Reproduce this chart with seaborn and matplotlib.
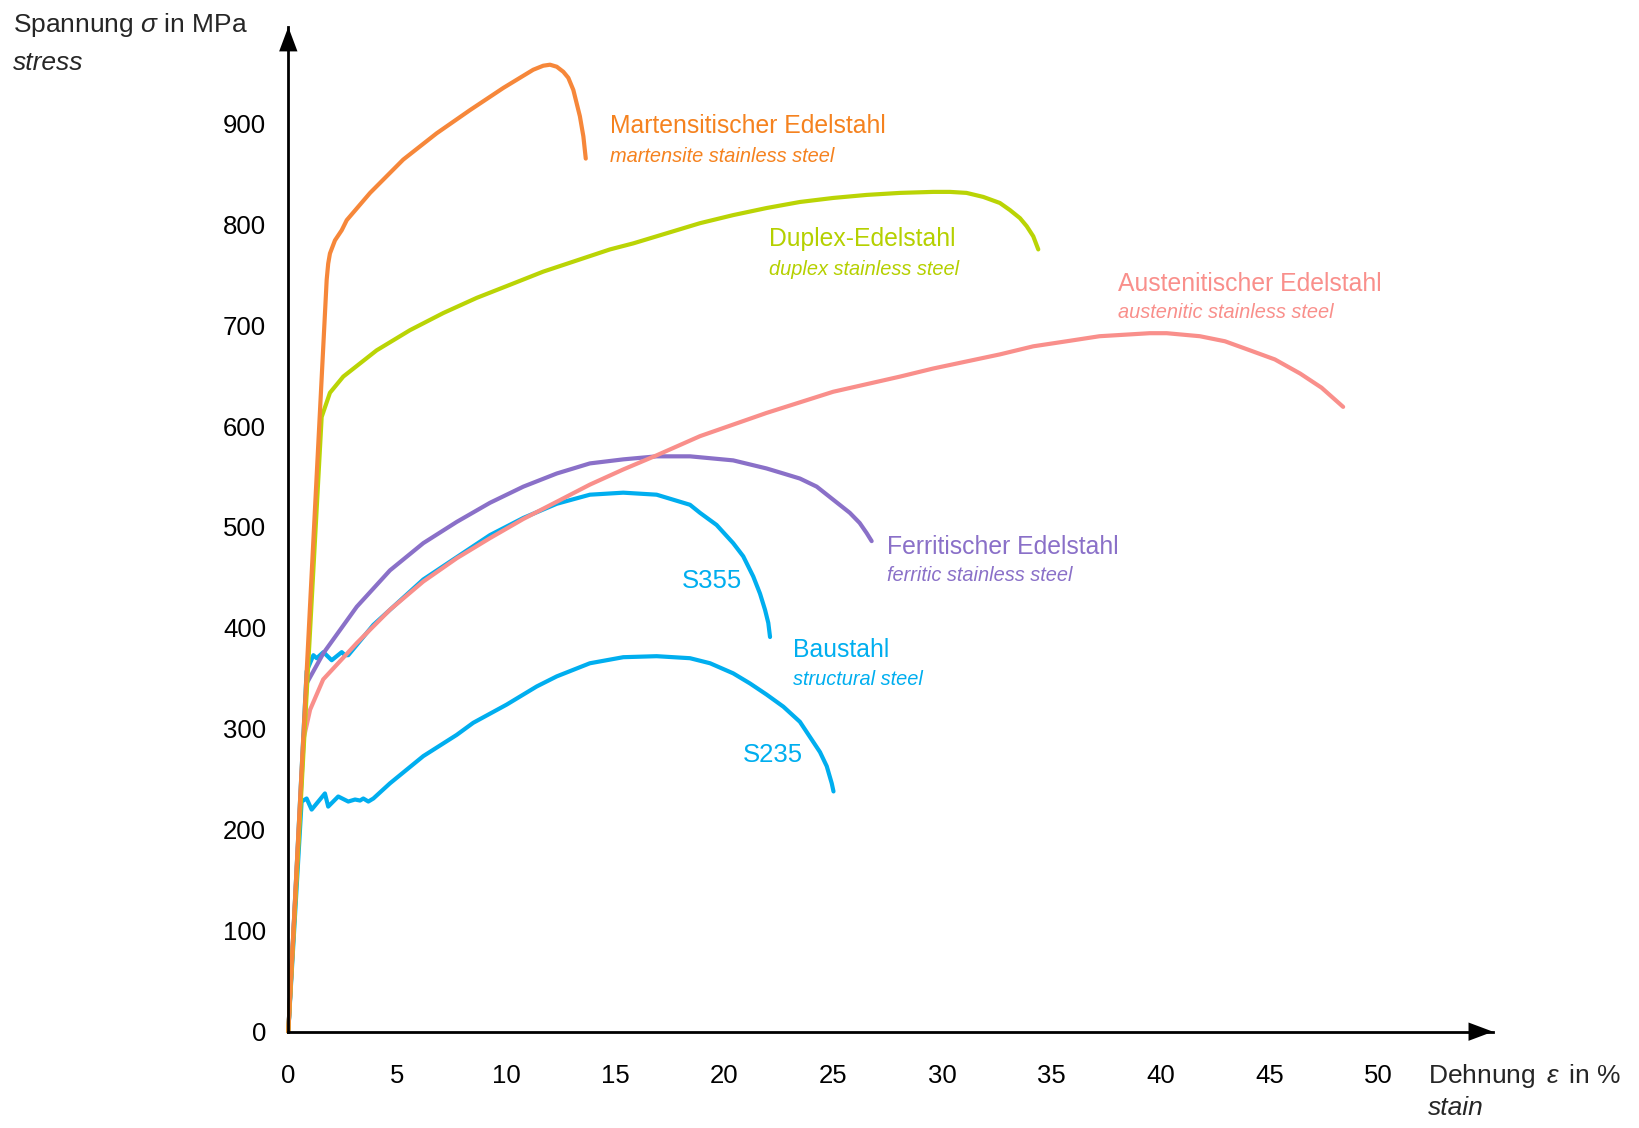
import matplotlib
matplotlib.use("Agg")
import matplotlib.pyplot as plt
from matplotlib.patches import ArrowStyle
import seaborn as sns
import pandas as pd

# Stress-strain curves: strain in %, stress in MPa
martensitic_strain = [0, 1.76, 1.83, 1.91, 2.14, 2.45, 2.68, 3.75, 5.27, 6.80, 8.33, 9.86, 10.62, 11.23, 11.69,
                      12.00, 12.31, 12.61, 12.84, 13.07, 13.22, 13.37, 13.53, 13.64]
martensitic_stress = [0, 745, 761, 771, 784, 794, 804, 831, 864, 890, 913, 935, 945, 953, 957,
                      958, 956, 951, 945, 933, 920, 907, 887, 865]

duplex_strain = [0, 1.53, 1.91, 2.52, 4.05, 5.58, 7.11, 8.64, 10.17, 11.69, 13.22, 14.75, 15.82, 17.35,
                 18.88, 20.40, 21.93, 23.46, 24.99, 26.52, 28.05, 29.57, 30.34, 31.10, 31.87, 32.63,
                 33.09, 33.55, 33.86, 34.16, 34.39]
duplex_stress = [0, 609, 633, 649, 675, 695, 712, 727, 740, 753, 764, 775, 781, 791,
                 801, 809, 816, 822, 826, 829, 831, 832, 832, 831, 827, 821,
                 814, 806, 798, 788, 775]

austenitic_strain = [0, 0.69, 1.00, 1.60, 3.14, 4.66, 6.19, 7.72, 9.25, 10.78, 12.31, 13.83, 15.36, 16.89, 18.88,
                     21.93, 24.99, 28.05, 29.57, 31.10, 32.63, 34.16, 35.69, 37.20, 38.74, 39.50, 40.28,
                     41.80, 42.95, 44.10, 45.24, 46.40, 47.38, 48.37]
austenitic_stress = [0, 289, 319, 349, 385, 418, 446, 469, 489, 508, 525, 542, 557, 571, 590,
                     613, 634, 649, 657, 664, 671, 679, 684, 689, 691, 692, 692,
                     689, 684, 675, 666, 652, 638, 619]

ferritic_strain = [0, 0.84, 1.61, 3.14, 4.66, 6.19, 7.72, 9.25, 10.78, 12.31, 13.83, 15.36, 16.89, 18.42,
                   20.40, 21.93, 22.70, 23.46, 24.23, 24.99, 25.75, 26.20, 26.52, 26.75]
ferritic_stress = [0, 345, 375, 421, 457, 484, 505, 524, 540, 553, 563, 567, 570, 570,
                   566, 558, 553, 548, 540, 527, 514, 504, 494, 486]

s355_strain = [0, 0.84, 1.15, 1.30, 1.61, 1.99, 2.45, 2.60, 2.75, 3.90, 6.19, 9.25, 10.78, 12.31, 13.83,
               15.36, 16.89, 18.42, 18.88, 19.64, 20.40, 20.86, 21.32, 21.63, 21.86, 22.01, 22.09]
s355_stress = [0, 357, 373, 370, 376, 368, 376, 373, 373, 403, 448, 492, 509, 523, 532,
               534, 532, 522, 514, 502, 484, 471, 451, 434, 418, 405, 391]

s235_strain = [0, 0.61, 0.84, 1.07, 1.68, 1.83, 2.29, 2.75, 3.06, 3.29, 3.44, 3.67, 3.90, 4.66, 6.19, 7.72,
               8.48, 10.01, 11.39, 12.31, 13.83, 15.36, 16.89, 18.42, 19.34, 20.40, 21.17, 21.93, 22.70,
               23.46, 23.92, 24.38, 24.69, 24.92, 25.00]
s235_stress = [0, 228, 231, 220, 236, 223, 233, 228, 230, 229, 231, 228, 231, 246, 273, 294,
               306, 324, 342, 352, 365, 371, 372, 370, 365, 355, 345, 334, 322,
               307, 292, 277, 263, 246, 238]

curve_names = ["S235", "S355", "Ferritic", "Austenitic", "Duplex", "Martensitic"]
curve_colors = {
    "S235": "#00AEEF",
    "S355": "#00AEEF",
    "Ferritic": "#8A70C8",
    "Austenitic": "#F98F8B",
    "Duplex": "#BAD405",
    "Martensitic": "#F6873A",
}

x_ticks = list(range(0, 51, 5))
y_ticks = list(range(0, 901, 100))

series = {
    "S235": (s235_strain, s235_stress),
    "S355": (s355_strain, s355_stress),
    "Ferritic": (ferritic_strain, ferritic_stress),
    "Austenitic": (austenitic_strain, austenitic_stress),
    "Duplex": (duplex_strain, duplex_stress),
    "Martensitic": (martensitic_strain, martensitic_stress),
}
frames = [pd.DataFrame({"strain": s, "stress": t, "steel": name}) for name, (s, t) in series.items()]
df = pd.concat(frames, ignore_index=True)

sns.set_style("white")
plt.rcParams["font.family"] = ["Liberation Sans", "DejaVu Sans"]
plt.rcParams["mathtext.fontset"] = "custom"
plt.rcParams["mathtext.rm"] = "Liberation Sans"
plt.rcParams["mathtext.it"] = "Liberation Sans:italic"

fig = plt.figure(figsize=(16.39, 11.28), dpi=100)
ax = fig.add_axes([0.1759, 0.0854, 0.735, 0.8907])

sns.lineplot(data=df, x="strain", y="stress", hue="steel", hue_order=curve_names,
             palette=curve_colors, sort=False, estimator=None, legend=False,
             linewidth=3.0, solid_capstyle="round", solid_joinstyle="round", ax=ax)
for line in ax.lines:
    line.set_clip_on(False)

ax.set_xlim(0, 55.24)
ax.set_ylim(0, 995.4)
ax.set_xticks(x_ticks)
ax.set_yticks(y_ticks)
ax.set_xlabel("")
ax.set_ylabel("")
for side in ("top", "right"):
    ax.spines[side].set_visible(False)
for side in ("left", "bottom"):
    ax.spines[side].set_linewidth(2.0)
    ax.spines[side].set_color("black")
ax.tick_params(axis="x", direction="out", length=7, width=0.9, pad=16, labelsize=18.5, colors="black")
ax.tick_params(axis="y", direction="out", length=7, width=0.9, pad=9, labelsize=18.5, colors="black")

# Arrow heads on both axes
head = ArrowStyle("-|>", head_length=0.8, head_width=0.3)
ax.annotate("", xy=(1, 0), xytext=(0.97, 0), xycoords="axes fraction",
            arrowprops=dict(arrowstyle=head, mutation_scale=22, color="black", lw=0,
                            shrinkA=0, shrinkB=0), annotation_clip=False)
ax.annotate("", xy=(0, 1), xytext=(0, 0.97), xycoords="axes fraction",
            arrowprops=dict(arrowstyle=head, mutation_scale=22, color="black", lw=0,
                            shrinkA=0, shrinkB=0), annotation_clip=False)

# Curve labels
labels = [
    (14.75, 890, 862, "Martensitischer Edelstahl", "martensite stainless steel", "#F5821F"),
    (22.05, 778, 750, "Duplex-Edelstahl", "duplex stainless steel", "#B5D000"),
    (38.06, 734, 707, "Austenitischer Edelstahl", "austenitic stainless steel", "#F98F8B"),
    (27.47, 473, 446, "Ferritischer Edelstahl", "ferritic stainless steel", "#8A70C8"),
    (23.16, 371, 343.5, "Baustahl", "structural steel", "#00AEEF"),
]
for x, y1, y2, de, en, col in labels:
    ax.text(x, y1, de, color=col, fontsize=17.8, va="baseline", ha="left")
    ax.text(x, y2, en, color=col, fontsize=14.4, style="italic", va="baseline", ha="left")
ax.text(18.04, 440, "S355", color="#00AEEF", fontsize=18.5, va="baseline", ha="left")
ax.text(20.83, 267.5, "S235", color="#00AEEF", fontsize=18.5, va="baseline", ha="left")

# Axis titles
fig.text(0.0077, 0.9719, r"Spannung $\sigma$ in MPa", fontsize=19, va="baseline", ha="left")
fig.text(0.0077, 0.9379, "stress", fontsize=19, style="italic", va="baseline", ha="left")
fig.text(0.8715, 0.0396, r"Dehnung $\,\varepsilon\,$ in %", fontsize=19, va="baseline", ha="left")
fig.text(0.8715, 0.0115, "stain", fontsize=19, style="italic", va="baseline", ha="left")

fig.savefig("out.png", dpi=100, facecolor="white")
